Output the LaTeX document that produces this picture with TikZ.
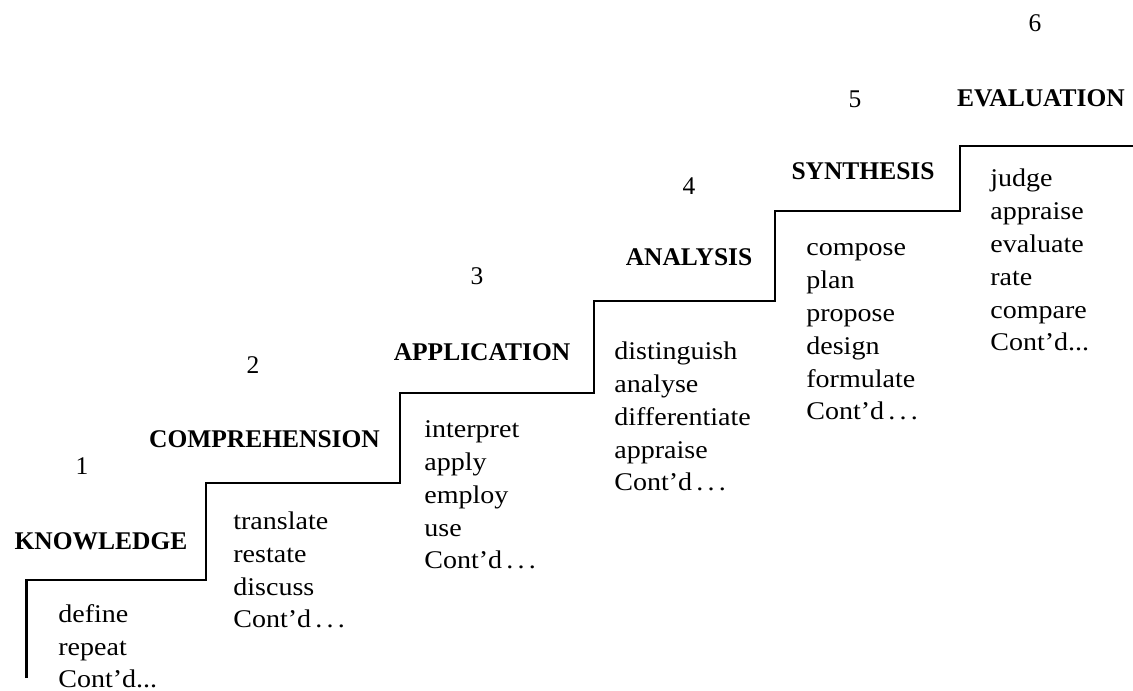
\documentclass[tikz,border=0pt]{standalone}
\usepackage{fontspec}
\setmainfont{Liberation Serif}
\newfontfamily\listfont[FakeStretch=1.1]{Liberation Serif}
\usepackage{tikz}
\newcommand{\stairwidth}{1.4pt}

\begin{document}
\begin{tikzpicture}[x=.02cm,y=.02cm,
    stage/.style={font=\fontsize{14.5}{17}\selectfont\bfseries},
    stepno/.style={font=\fontsize{14.5}{17}\selectfont},
    verbs/.style={anchor=base west, align=left, inner sep=0pt,
      font=\listfont\fontsize{14.5}{18.7}\selectfont}]

        \useasboundingbox (0,0) rectangle (1133,690);

        \coordinate (s0) at (26.5,12);
        \coordinate (s1) at (26.5,110);
        \coordinate (s2) at (206,110);
        \coordinate (s3) at (206,207);
        \coordinate (s4) at (400,207);
        \coordinate (s5) at (400,297);
        \coordinate (s6) at (594,297);
        \coordinate (s7) at (594,389);
        \coordinate (s8) at (775,389);
        \coordinate (s9) at (775,479);
        \coordinate (s10) at (960,479);
        \coordinate (s11) at (960,544);
        \coordinate (s12) at (1133,544);
        \draw[line width=\stairwidth]
        (s0) -- (s1) -- (s2) -- (s3) -- (s4) -- (s5) -- (s6)
        -- (s7) -- (s8) -- (s9) -- (s10) -- (s11) -- (s12);

        \node (n1) at (82,223.5) [stepno] {1};
        \node (n2) at (253,325) [stepno] {2};
        \node (n3) at (477,414) [stepno] {3};
        \node (n4) at (689,504) [stepno] {4};
        \node (n5) at (855,590.5) [stepno] {5};
        \node (n6) at (1035,667) [stepno] {6};

        \node (know) at (101,149) [stage] {KNOWLEDGE};
        \node (comp) at (264.5,251) [stage] {COMPREHENSION};
        \node (appl) at (482,338) [stage] {APPLICATION};
        \node (anal) at (689,432.5) [stage] {ANALYSIS};
        \node (synt) at (863,518.4) [stage] {SYNTHESIS};
        \node (eval) at (1041,592) [stage] {EVALUATION};

        % base anchor sits on the last line
        \node (knowv) at (58,2) [verbs] {define\\repeat\\Cont’d...};
        \node (compv) at (233,62) [verbs] {translate\\restate\\discuss\\Cont’d\,.\,.\,.};
        \node (applv) at (424,121) [verbs] {interpret\\apply\\employ\\use\\Cont’d\,.\,.\,.};
        \node (analv) at (614,199) [verbs] {distinguish\\analyse\\differentiate\\appraise\\Cont’d\,.\,.\,.};
        \node (syntv) at (806,270) [verbs] {compose\\plan\\propose\\design\\formulate\\Cont’d\,.\,.\,.};
        \node (evalv) at (990,339) [verbs] {judge\\appraise\\evaluate\\rate\\compare\\Cont’d...};
          \end{tikzpicture}
\end{document}
